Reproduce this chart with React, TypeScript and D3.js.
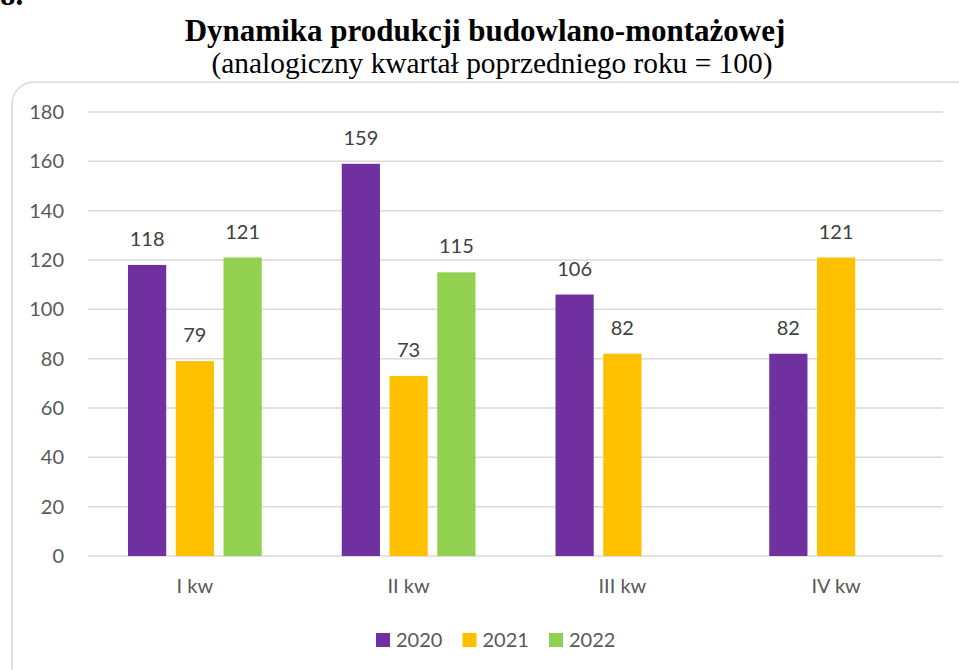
import React from "react";
import * as d3 from "d3";

const categories = ["I kw", "II kw", "III kw", "IV kw"];
const seriesNames = ["2020", "2021", "2022"];
const values2020 = [118, 159, 106, 82];
const values2021 = [79, 73, 82, 121];
const values2022: (number | null)[] = [121, 115, null, null];
const seriesColors = ["#7030A0", "#FFC000", "#92D050"];
const yTicks = [0, 20, 40, 60, 80, 100, 120, 140, 160, 180];

const W = 959;
const H = 670;
const plotLeft = 88;
const plotRight = 943;
const plotTop = 112;
const plotBottom = 556;
const labelFont = "Lato, 'Open Sans', sans-serif";
const serif = "'Liberation Serif', 'Times New Roman', serif";

export default function App() {
  const series = [values2020, values2021, values2022];
  const x0 = d3.scaleBand<string>().domain(categories).range([plotLeft, plotRight]).paddingInner(0).paddingOuter(0);
  const x1 = d3
    .scaleBand<string>()
    .domain(seriesNames)
    .range([40, x0.bandwidth() - 40])
    .paddingInner(0.2)
    .paddingOuter(0);
  const y = d3.scaleLinear().domain([0, 180]).range([plotBottom, plotTop]);

  return (
    <svg
      width={W}
      height={H}
      style={{ position: "absolute", left: 0, top: 0, background: "#fff" }}
    >
      <text x={0} y={5} fontFamily={serif} fontWeight="bold" fontSize={31} fill="#000">
        8.
      </text>
      <rect x={12} y={82} width={965} height={620} rx={22} ry={22} fill="#fff" stroke="#d9d9d9" strokeWidth={1.5} />
      <text x={485} y={41} textAnchor="middle" fontFamily={serif} fontWeight="bold" fontSize={31} fill="#000">
        Dynamika produkcji budowlano-montażowej
      </text>
      <text x={492} y={73} textAnchor="middle" fontFamily={serif} fontSize={29.4} fill="#000">
        (analogiczny kwartał poprzedniego roku = 100)
      </text>
      {yTicks.map((t) => (
        <g key={t}>
          <line x1={plotLeft} x2={plotRight} y1={y(t)} y2={y(t)} stroke="#d9d9d9" strokeWidth={1.5} />
          <text x={64} y={y(t) + 7} textAnchor="end" fontFamily={labelFont} fontSize={20} fill="#595959">
            {t}
          </text>
        </g>
      ))}
      {categories.map((c, ci) => (
        <g key={c}>
          {series.map((vals, si) => {
            const v = vals[ci];
            if (v == null) return null;
            const bx = (x0(c) as number) + (x1(seriesNames[si]) as number);
            const bw = x1.bandwidth();
            return (
              <g key={si}>
                <rect x={bx} y={y(v)} width={bw} height={plotBottom - y(v)} fill={seriesColors[si]} />
                <text x={bx + bw / 2} y={y(v) - 19} textAnchor="middle" fontFamily={labelFont} fontSize={20} fill="#404040">
                  {v}
                </text>
              </g>
            );
          })}
          <text x={(x0(c) as number) + x0.bandwidth() / 2} y={593} textAnchor="middle" fontFamily={labelFont} fontSize={20} fill="#595959">
            {c}
          </text>
        </g>
      ))}
      {seriesNames.map((s, i) => (
        <g key={s} transform={`translate(${376 + i * 86.5},633)`}>
          <rect x={0} y={0} width={14} height={14} fill={seriesColors[i]} />
          <text x={20} y={14} fontFamily={labelFont} fontSize={20} fill="#595959">
            {s}
          </text>
        </g>
      ))}
    </svg>
  );
}
